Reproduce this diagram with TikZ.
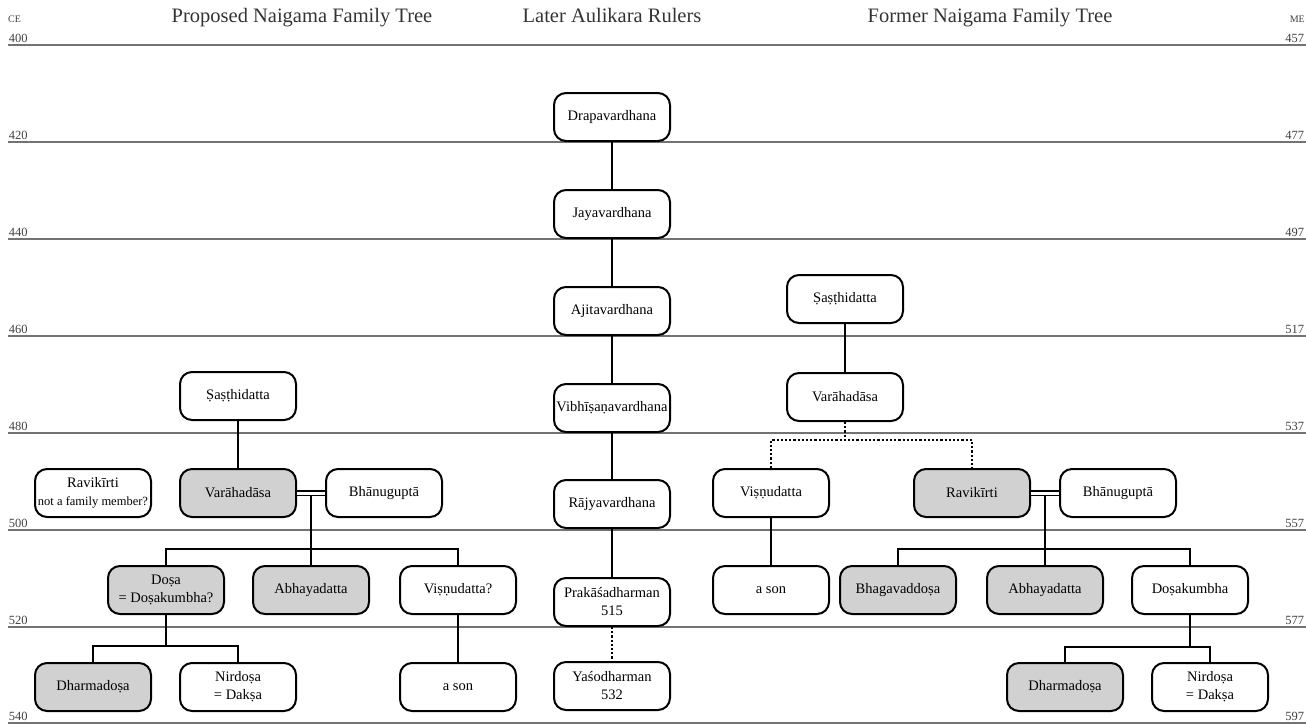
\documentclass[tikz,border=0pt]{standalone}
\usepackage{fontspec}
\setmainfont{Liberation Serif}
\usetikzlibrary{calc}
\begin{document}
\begin{tikzpicture}[x=1pt, y=-1pt,
  person/.style={draw, line width=2pt, rounded corners=12pt, minimum width=116pt, minimum height=48pt, inner xsep=1pt, align=center, fill=white, font=\fontsize{14.5}{18}\selectfont},
  kin/.style={person, fill=black!18},
  era/.style={draw=black!55, line width=1.8pt},
  tie/.style={line width=2.2pt},
  doubt/.style={line width=2.2pt, dotted},
  wed/.style={double, double distance=3pt, line width=1.3pt},
  yr/.style={anchor=base west, inner sep=0pt, text=black!75, font=\fontsize{12.5}{14}\selectfont},
  ry/.style={yr, anchor=base east},
  heading/.style={anchor=base, inner sep=0pt, text=black!80, font=\fontsize{20.5}{24}\selectfont}]
  \clip (0,0) rectangle (1306,724);
  \node[yr] (ce) at (8,22) {\fontsize{10}{12}\selectfont CE};
  \node[ry] (me) at (1305,22) {\fontsize{10}{12}\selectfont ME};
  \draw[era] (8,45) -- (1306,45) node[yr, pos=0, yshift=3pt] {400} node[ry, pos=1, xshift=-1pt, yshift=3pt] {457};
  \draw[era] (8,142) -- (1306,142) node[yr, pos=0, yshift=3pt] {420} node[ry, pos=1, xshift=-1pt, yshift=3pt] {477};
  \draw[era] (8,239) -- (1306,239) node[yr, pos=0, yshift=3pt] {440} node[ry, pos=1, xshift=-1pt, yshift=3pt] {497};
  \draw[era] (8,336) -- (1306,336) node[yr, pos=0, yshift=3pt] {460} node[ry, pos=1, xshift=-1pt, yshift=3pt] {517};
  \draw[era] (8,433) -- (1306,433) node[yr, pos=0, yshift=3pt] {480} node[ry, pos=1, xshift=-1pt, yshift=3pt] {537};
  \draw[era] (8,530) -- (1306,530) node[yr, pos=0, yshift=3pt] {500} node[ry, pos=1, xshift=-1pt, yshift=3pt] {557};
  \draw[era] (8,627) -- (1306,627) node[yr, pos=0, yshift=3pt] {520} node[ry, pos=1, xshift=-1pt, yshift=3pt] {577};
  \draw[era] (8,723) -- (1306,723) node[yr, pos=0, yshift=3pt] {540} node[ry, pos=1, xshift=-1pt, yshift=3pt] {597};

  \node[heading] (proposed) at (302,22) {Proposed Naigama Family Tree};
  \node[heading] (later) at (612,22) {Later Aulikara Rulers};
  \node[heading] (former) at (990,22) {Former Naigama Family Tree};

  \node[person] (drapa) at (612,117) {Drapavardhana};
  \node[person] (jaya) at (612,214) {Jayavardhana};
  \node[person] (ajita) at (612,311) {Ajitavardhana};
  \node[person] (vibhi) at (612,408) {Vibhīṣaṇavardhana};
  \node[person] (rajya) at (612,504) {Rājyavardhana};
  \node[person] (praka) at (612,602) {Prakāśadharman\\515};
  \node[person] (yaso) at (612,686) {Yaśodharman\\532};
  \draw[tie] (drapa.south) -- (jaya.north);
  \draw[tie] (jaya.south) -- (ajita.north);
  \draw[tie] (ajita.south) -- (vibhi.north);
  \draw[tie] (vibhi.south) -- (rajya.north);
  \draw[tie] (rajya.south) -- (praka.north);
  \draw[doubt] (praka.south) -- (yaso.north);

  \node[person] (lsas) at (238,396) {Ṣaṣṭhidatta};
  \node[kin] (lvara) at (238,493) {Varāhadāsa};
  \node[person] (lravi) at (93,493) {Ravikīrti\\{\fontsize{12.5}{15}\selectfont not a family member?}};
  \node[person] (lbhanu) at (384,493) {Bhānuguptā};
  \coordinate (lwed) at ($(lvara.east)!0.5!(lbhanu.west)$);
  \coordinate (lbar) at ($(lwed)+(0,56)$);
  \node[kin] (ldosa) at (166,590) {Doṣa\\= Doṣakumbha?};
  \node[kin] (labhaya) at ($(lwed)+(0,97)$) {Abhayadatta};
  \node[person] (lvisnu) at (458,590) {Viṣṇudatta?};
  \node[kin] (ldharma) at (93,687) {Dharmadoṣa};
  \node[person] (lnir) at (238,687) {Nirdoṣa\\= Dakṣa};
  \node[person] (lson) at (458,687) {a son};
  \coordinate (lbar2) at ($(ldosa.south)+(0,31)$);
  \draw[tie] (lsas.south) -- (lvara.north);
  \draw[tie] (lwed) -- (lbar);
  \draw[wed] (lvara.east) -- (lbhanu.west);
  \draw[tie] (ldosa.north) |- (lbar) -| (lvisnu.north);
  \draw[tie] (labhaya.north) -- (lbar);
  \draw[tie] (ldosa.south) -- (lbar2);
  \draw[tie] (ldharma.north) |- (lbar2) -| (lnir.north);
  \draw[tie] (lvisnu.south) -- (lson.north);

  \node[person] (rsas) at (845,299) {Ṣaṣṭhidatta};
  \node[person] (rvara) at (845,397) {Varāhadāsa};
  \node[person] (rvisnu) at (771,493) {Viṣṇudatta};
  \node[kin] (rravi) at (972,493) {Ravikīrti};
  \node[person] (rbhanu) at (1118,493) {Bhānuguptā};
  \coordinate (rwed) at ($(rravi.east)!0.5!(rbhanu.west)$);
  \coordinate (rbar) at ($(rwed)+(0,56)$);
  \node[person] (rson) at (771,590) {a son};
  \node[kin] (rbhaga) at (898,590) {Bhagavaddoṣa};
  \node[kin] (rabhaya) at ($(rwed)+(0,97)$) {Abhayadatta};
  \node[person] (rdosa) at (1190,590) {Doṣakumbha};
  \node[kin] (rdharma) at (1065,687) {Dharmadoṣa};
  \node[person] (rnir) at (1210,687) {Nirdoṣa\\= Dakṣa};
  \coordinate (rfork) at ($(rvara.south)+(0,18)$);
  \coordinate (rbar2) at ($(rdosa.south)+(0,32)$);
  \draw[tie] (rsas.south) -- (rvara.north);
  \draw[doubt] (rvara.south) -- (rfork);
  \draw[doubt] (rvisnu.north) |- (rfork) -| (rravi.north);
  \draw[tie] (rwed) -- (rbar);
  \draw[wed] (rravi.east) -- (rbhanu.west);
  \draw[tie] (rbhaga.north) |- (rbar) -| (rdosa.north);
  \draw[tie] (rabhaya.north) -- (rbar);
  \draw[tie] (rvisnu.south) -- (rson.north);
  \draw[tie] (rdosa.south) -- (rbar2);
  \draw[tie] (rdharma.north) |- (rbar2) -| (rnir.north);
\end{tikzpicture}
\end{document}
